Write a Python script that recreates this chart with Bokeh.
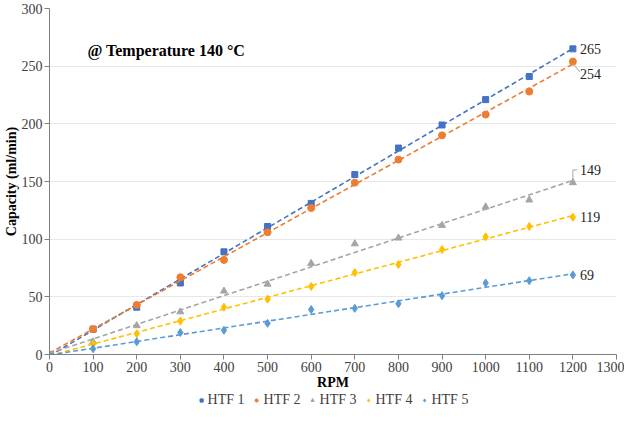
import numpy as np
from bokeh.plotting import figure
from bokeh.layouts import column
from bokeh.models import (Range1d, FixedTicker, Legend, LegendItem, Label, ColumnDataSource)
from bokeh.core.properties import value
from bokeh.embed import file_html
from bokeh.resources import INLINE

rpm = [0, 100, 200, 300, 400, 500, 600, 700, 800, 900, 1000, 1100, 1200]
htf1 = [0, 22, 41, 62, 89, 111, 131, 156, 179, 199, 221, 241, 265]
htf2 = [0, 22, 43, 67, 82, 106, 127, 149, 169, 190, 208, 228, 254]
htf3 = [0, 11, 25, 37, 55, 61, 79, 96, 101, 112, 128, 134, 149]
htf4 = [0, 9, 18, 29, 41, 48, 59, 71, 78, 91, 102, 111, 119]
htf5 = [0, 5, 11, 19, 21, 27, 39, 40, 44, 51, 62, 64, 69]
names = ["HTF 1", "HTF 2", "HTF 3", "HTF 4", "HTF 5"]
x_ticks = list(range(0, 1301, 100))
y_ticks = list(range(0, 301, 50))
annotation = "@ Temperature 140 °C"

series = [htf1, htf2, htf3, htf4, htf5]
colors = ["#4472C4", "#ED7D31", "#A5A5A5", "#FFC000", "#5B9BD5"]
markers = ["square", "circle", "triangle", "diamond", "diamond"]
sizes = [6, 7, 7, 8, 8]
FONT = "Liberation Serif"

p = figure(width=624, height=392, output_backend="svg", toolbar_location=None,
           x_range=Range1d(0, 1300), y_range=Range1d(0, 300),
           min_border_left=0, min_border_right=8, min_border_top=8, min_border_bottom=0)
p.outline_line_color = None
p.background_fill_color = "white"
p.border_fill_color = "white"

for ax in (p.xaxis[0], p.yaxis[0]):
    ax.axis_line_color = "#7F7F7F"
    ax.major_tick_line_color = "#7F7F7F"
    ax.minor_tick_line_color = None
    ax.major_tick_out = 5
    ax.major_tick_in = 0
    ax.major_label_text_font = FONT
    ax.major_label_text_font_size = "14px"
    ax.major_label_text_color = "#404040"
    ax.axis_label_text_font = FONT
    ax.axis_label_text_font_style = "bold"
    ax.axis_label_text_font_size = "14px"
    ax.axis_label_text_color = "#000000"

p.xaxis.ticker = FixedTicker(ticks=x_ticks)
p.yaxis.ticker = FixedTicker(ticks=y_ticks)
p.xaxis.axis_label = "RPM"
p.yaxis.axis_label = "Capacity (ml/min)"
p.xaxis.major_label_standoff = 2
p.xaxis.axis_label_standoff = 0
p.yaxis.major_label_standoff = 2
p.yaxis.axis_label_standoff = 0
p.xgrid.grid_line_color = None
p.ygrid.grid_line_color = "#E8E8E8"

# legend strip below the chart
lg = figure(width=624, height=15, output_backend="svg", toolbar_location=None,
            x_range=Range1d(0, 1), y_range=Range1d(0, 1),
            min_border=0)
lg.axis.visible = False
lg.grid.visible = False
lg.outline_line_color = None

items = []
xa = np.array(rpm, dtype=float)
for name, ys, c, m, s in zip(names, series, colors, markers, sizes):
    ya = np.array(ys, dtype=float)
    k, b = np.polyfit(xa, ya, 1)
    p.line(xa, k * xa + b, line_color=c, line_width=1.6, line_dash="5 3")
    p.scatter(xa, ya, marker=m, size=s, fill_color=c, line_color=c)
    # off-screen point so the legend strip can draw the marker
    r = lg.scatter(x=[-5], y=[-5], marker=m, size=s - 1, fill_color=c, line_color=c)
    items.append(LegendItem(label=name, renderers=[r]))

# end-point data labels
lab_src = ColumnDataSource(dict(
    x=[rpm[-1]] * 5,
    y=[htf1[-1], htf2[-1], htf3[-1], htf4[-1], htf5[-1]],
    t=[str(htf1[-1]), str(htf2[-1]), str(htf3[-1]), str(htf4[-1]), str(htf5[-1])],
    yo=[0, 12, -13, 0, 0],
))
p.text(x="x", y="y", text="t", source=lab_src, x_offset=7, y_offset="yo",
       text_font=value(FONT), text_font_size="14px", text_color="#262626",
       text_baseline="middle", text_align="left")

# leader lines for 254 and 149
p.segment(x0=[rpm[-1] + 3], y0=[htf2[-1] - 3], x1=[rpm[-1] + 16], y1=[htf2[-1] - 9],
          line_color="#A6A6A6", line_width=1)
p.segment(x0=[rpm[-1]], y0=[htf3[-1] + 3], x1=[rpm[-1]], y1=[htf3[-1] + 11],
          line_color="#A6A6A6", line_width=1)
p.segment(x0=[rpm[-1]], y0=[htf3[-1] + 11], x1=[rpm[-1] + 10], y1=[htf3[-1] + 11],
          line_color="#A6A6A6", line_width=1)

p.add_layout(Label(x=87, y=264, text=annotation, text_font=FONT,
                   text_font_style="bold", text_font_size="16px",
                   text_color="#000000", text_baseline="middle"))

legend = Legend(items=items, orientation="horizontal", location="center",
                glyph_width=8, glyph_height=8, label_standoff=3, spacing=8,
                padding=0, margin=0, border_line_color=None,
                background_fill_alpha=0,
                label_text_font=FONT, label_text_font_size="14px",
                label_text_color="#404040", label_height=15)
lg.add_layout(legend)

layout = column(p, lg, spacing=0)
open("out.html", "w").write(file_html(layout, INLINE))
